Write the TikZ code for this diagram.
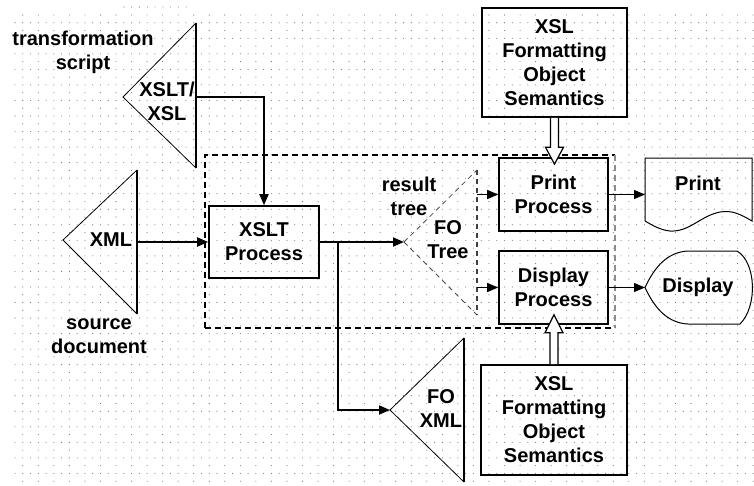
\documentclass[tikz,border=0pt]{standalone}
\usepackage{fontspec}
\setmainfont{Liberation Sans}
\usetikzlibrary{arrows.meta,calc}
\begin{document}
\begin{tikzpicture}[x=1pt,y=-1pt,
  lbl/.style={font=\fontsize{20}{24}\selectfont\bfseries, align=center, inner sep=0pt},
  procbox/.style={lbl, draw, line width=1.6pt, minimum width=#1},
  dotc/.style={fill=black!55},
  tri/.style={line width=0.8pt},
  triedge/.style={line width=1.8pt},
  conn/.style={line width=1.8pt, -{Triangle[length=11pt,width=9pt]}},
  connthin/.style={line width=1pt, -{Triangle[length=11pt,width=9pt]}},
  hollow/.style={fill=white, draw=black, line width=1.2pt, line join=miter},
  frame/.style={line width=1.6pt, dash pattern=on 6pt off 4pt},
  fotree/.style={line width=0.8pt, black!70, dash pattern=on 5pt off 4pt}]
\useasboundingbox (0,0) rectangle (754,485);

% dotted background grid
\foreach \j in {1,3,...,59}
  \foreach \i in {0,...,95}
    \fill[dotc] (15+7.77*\i,15+7.77*\j) circle (0.55pt);
\foreach \j in {0,2,...,60}
  \foreach \i in {1,3,...,95}
    \fill[dotc] (15+7.77*\i,15+7.77*\j) circle (0.55pt);
\foreach \i in {0,...,8}
  \fill[dotc] (124+7.77*\i,7) circle (0.55pt);

% dashed frame round the formatter
\coordinate (frTL) at (205,155);
\coordinate (frBR) at (615,328);
\draw[frame] (frBR -| frTL) -- (frTL) -- (frTL -| frBR);
\draw[frame] (frTL |- frBR) -- (frBR);
\draw[frame, black!45, line width=1.2pt] (frTL -| frBR) -- (frBR);

% XSLT/XSL stylesheet
\coordinate (xslA) at (123,97);
\coordinate (xslT) at (196,23);
\coordinate (xslB) at (196,168);
\coordinate (xslOut) at (196,97);
\draw[tri] (xslT) -- (xslA) -- (xslB);
\draw[triedge] (xslT) -- (xslB);
\node[lbl] (xsltxt) at (167,101) {XSLT/\\XSL};
\node[lbl] (trscript) at (83,52) {transformation\\script};

% XML source
\coordinate (xmlA) at (63,240);
\coordinate (xmlT) at (137,170);
\coordinate (xmlB) at (137,314);
\coordinate (xmlOut) at (137,242);
\draw[tri] (xmlT) -- (xmlA) -- (xmlB);
\draw[triedge] (xmlT) -- (xmlB);
\node[lbl] (xmltxt) at (111,240) {XML};
\node[lbl] (srcdoc) at (99,336) {source\\document};

% XSLT processor
\node[procbox=110pt, minimum height=72pt] (xsltp) at (264,242) {XSLT\\Process};

% FO tree (result tree)
\coordinate (fotA) at (404,242);
\coordinate (fotT) at (477,170);
\coordinate (fotB) at (477,315);
\draw[fotree] (fotA) -- (fotT);
\draw[fotree] (fotA) -- (fotB);
\draw[fotree, line width=1.5pt, black!75] (fotT) -- (fotB);
\node[lbl] (restree) at (409,196) {result\\tree};
\node[lbl] (fotxt) at (448,240) {FO\\Tree};
\coordinate (fotP) at (477,194.5);
\coordinate (fotD) at (477,287.5);

% FO XML output
\coordinate (foxA) at (390,410);
\coordinate (foxT) at (464,338);
\coordinate (foxB) at (464,482);
\draw[tri] (foxT) -- (foxA) -- (foxB);
\draw[triedge] (foxT) -- (foxB);
\node[lbl] (foxtxt) at (441,409) {FO\\XML};

% print and display processors
\node[procbox=109pt, minimum height=73pt] (pp) at (553.5,194.5) {Print\\Process};
\node[procbox=109pt, minimum height=73pt] (dp) at (553.5,287.5) {Display\\Process};

% formatting object semantics
\node[procbox=145pt, minimum height=109pt] (semtop) at (554.5,62.5)
  {XSL\\Formatting\\Object\\Semantics};
\node[procbox=146pt, minimum height=110pt] (sembot) at (554,420)
  {XSL\\Formatting\\Object\\Semantics};

% print output (document shape)
\draw[line width=1pt] (645,158) -- (752,158) -- (752,221)
  .. controls (740,214) and (732,210) .. (720,212)
  .. controls (700,216) and (690,232) .. (670,231)
  .. controls (660,230) and (652,225) .. (645,221) -- cycle;
\node[lbl] (printdoc) at (698,183) {Print};
\coordinate (printIn) at (645,194.5);

% display output
\draw[line width=1pt] (645,287.5)
  .. controls (655,266) and (668,252) .. (688,251) -- (737,251)
  .. controls (756,262) and (758,306) .. (740,324) -- (688,324)
  .. controls (668,323) and (655,309) .. (645,287.5) -- cycle;
\node[lbl] (disptxt) at (698,287) {Display};
\coordinate (dispIn) at (645,287.5);

% data flow
\draw[conn] (xslOut) -| (xsltp.north);
\draw[conn] (xmlOut) -- (xsltp.west);
\draw[conn] (xsltp.east) -- (fotA);
\coordinate (brk) at (338,242);
\draw[conn] (brk) |- (foxA);
\draw[conn, line width=1.3pt] (fotP) -- (pp.west);
\draw[conn, line width=1.3pt] (fotD) -- (dp.west);
\draw[connthin] (pp.east) -- (printIn);
\draw[connthin] (dp.east) -- (dispIn);

% hollow arrows from the semantics boxes (let-points are in canvas units, y up)
\draw[hollow] let \p1=(semtop.south), \p2=(pp.north) in
  (\x1-4pt,\y1) -- (\x1-4pt,\y2+10pt) -- (\x1-9pt,\y2+10pt) -- (\x1,\y2-7pt)
  -- (\x1+9pt,\y2+10pt) -- (\x1+4pt,\y2+10pt) -- (\x1+4pt,\y1);
\draw[hollow] let \p1=(sembot.north), \p2=(dp.south) in
  (\x1-4pt,\y1) -- (\x1-4pt,\y2-8pt) -- (\x1-9pt,\y2-8pt) -- (\x1,\y2+10pt)
  -- (\x1+9pt,\y2-8pt) -- (\x1+4pt,\y2-8pt) -- (\x1+4pt,\y1);
\end{tikzpicture}
\end{document}
